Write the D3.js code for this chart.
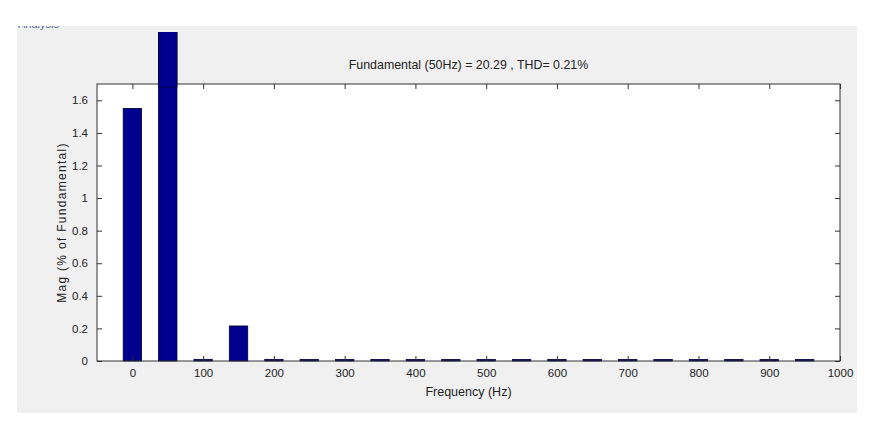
<!doctype html>
<html>
<head>
<script type='text/javascript' src='https://d3js.org/d3.v7.min.js'></script>
<style>
body { margin:0; background:#fff; }
text { font-family: "Liberation Sans", Arial, sans-serif; fill:#222; }
</style>
</head>
<body>
<script>
var width = 883, height = 430;
// harmonic spectrum data (% of fundamental)
var freqs = [0, 50, 100, 150, 200, 250, 300, 350, 400, 450, 500, 550, 600, 650, 700, 750, 800, 850, 900, 950];
var mags  = [1.55, 100, 0.01, 0.215, 0.01, 0.008, 0.008, 0.008, 0.008, 0.008, 0.008, 0.008, 0.008, 0.008, 0.008, 0.008, 0.008, 0.008, 0.008, 0.008];
var xTicks = [0, 100, 200, 300, 400, 500, 600, 700, 800, 900, 1000];
var yTicks = [0, 0.2, 0.4, 0.6, 0.8, 1, 1.2, 1.4, 1.6];
var titleText = 'Fundamental (50Hz) = 20.29 , THD= 0.21%';

var svg = d3.select('body').append('svg').attr('width', width).attr('height', height);

// figure background
svg.append('rect').attr('x', 17).attr('y', 26).attr('width', 840).attr('height', 387).attr('fill', '#f0f0f0');

// clipped window caption at top-left
svg.append('clipPath').attr('id', 'figclip')
  .append('rect').attr('x', 17).attr('y', 26).attr('width', 840).attr('height', 387);
svg.append('text').attr('x', 18).attr('y', 28).attr('clip-path', 'url(#figclip)')
  .style('font-size', '11px').style('fill', '#5a6890').text('Analysis');

var m = {left: 97, right: 840, top: 84, bottom: 361};
var x = d3.scaleLinear().domain([-50, 1000]).range([m.left, m.right]);
var y = d3.scaleLinear().domain([0, 1.7]).range([m.bottom, m.top]);

// plot area
svg.append('rect').attr('x', m.left).attr('y', m.top)
  .attr('width', m.right - m.left).attr('height', m.bottom - m.top).attr('fill', '#fff');

// bars (big fundamental bar runs over the axes top)
svg.append('clipPath').attr('id', 'barclip')
  .append('rect').attr('x', 17).attr('y', 32).attr('width', 840).attr('height', 381);
var bw = x(26) - x(0);
svg.append('g').attr('clip-path', 'url(#barclip)')
  .selectAll('rect').data(freqs).join('rect')
  .attr('x', function(d) { return x(d) - bw / 2; })
  .attr('y', function(d, i) { return Math.min(y(mags[i]), m.bottom - 1.5); })
  .attr('width', bw)
  .attr('height', function(d, i) { return m.bottom - Math.min(y(mags[i]), m.bottom - 1.5); })
  .attr('fill', '#00008f').attr('stroke', '#000033').attr('stroke-width', 0.8);

// axes
var fmt = function(d) { return d3.format('~g')(d); };
var gx = svg.append('g').attr('transform', 'translate(0,' + m.bottom + ')')
  .call(d3.axisBottom(x).tickValues(xTicks).tickSize(-5).tickPadding(8).tickFormat(fmt));
var gxt = svg.append('g').attr('transform', 'translate(0,' + m.top + ')')
  .call(d3.axisTop(x).tickValues(xTicks).tickSize(-5).tickFormat(''));
var gy = svg.append('g').attr('transform', 'translate(' + m.left + ',0)')
  .call(d3.axisLeft(y).tickValues(yTicks).tickSize(-5).tickPadding(9).tickFormat(fmt));
var gyr = svg.append('g').attr('transform', 'translate(' + m.right + ',0)')
  .call(d3.axisRight(y).tickValues(yTicks).tickSize(-5).tickFormat(''));

[gx, gxt, gy, gyr].forEach(function(g) {
  g.select('.domain').remove();
  g.selectAll('.tick line').attr('stroke', '#333');
  g.selectAll('.tick text').style('font-size', '11.5px').style('font-family', '"Liberation Sans", Arial, sans-serif').attr('fill', '#222');
});

// box
svg.append('rect').attr('x', m.left).attr('y', m.top)
  .attr('width', m.right - m.left).attr('height', m.bottom - m.top)
  .attr('fill', 'none').attr('stroke', '#333').attr('stroke-width', 1);
// redraw big bar segment above box so it shows over the top line
svg.append('g').attr('clip-path', 'url(#barclip)')
  .append('rect').attr('x', x(50) - bw / 2).attr('y', y(mags[1]))
  .attr('width', bw).attr('height', m.top + 3 - y(mags[1]))
  .attr('fill', '#00008f').attr('stroke', '#000033').attr('stroke-width', 0.8);

// labels
svg.append('text').attr('x', (m.left + m.right) / 2).attr('y', 69)
  .attr('text-anchor', 'middle').style('font-size', '12.4px').text(titleText);
svg.append('text').attr('x', (m.left + m.right) / 2).attr('y', 396)
  .attr('text-anchor', 'middle').style('font-size', '12.5px').text('Frequency (Hz)');
svg.append('text').attr('transform', 'translate(66,' + (m.top + m.bottom) / 2 + ') rotate(-90)')
  .attr('text-anchor', 'middle').style('font-size', '12px').style('letter-spacing', '1.3px')
  .text('Mag (% of Fundamental)');
</script>
</body>
</html>
